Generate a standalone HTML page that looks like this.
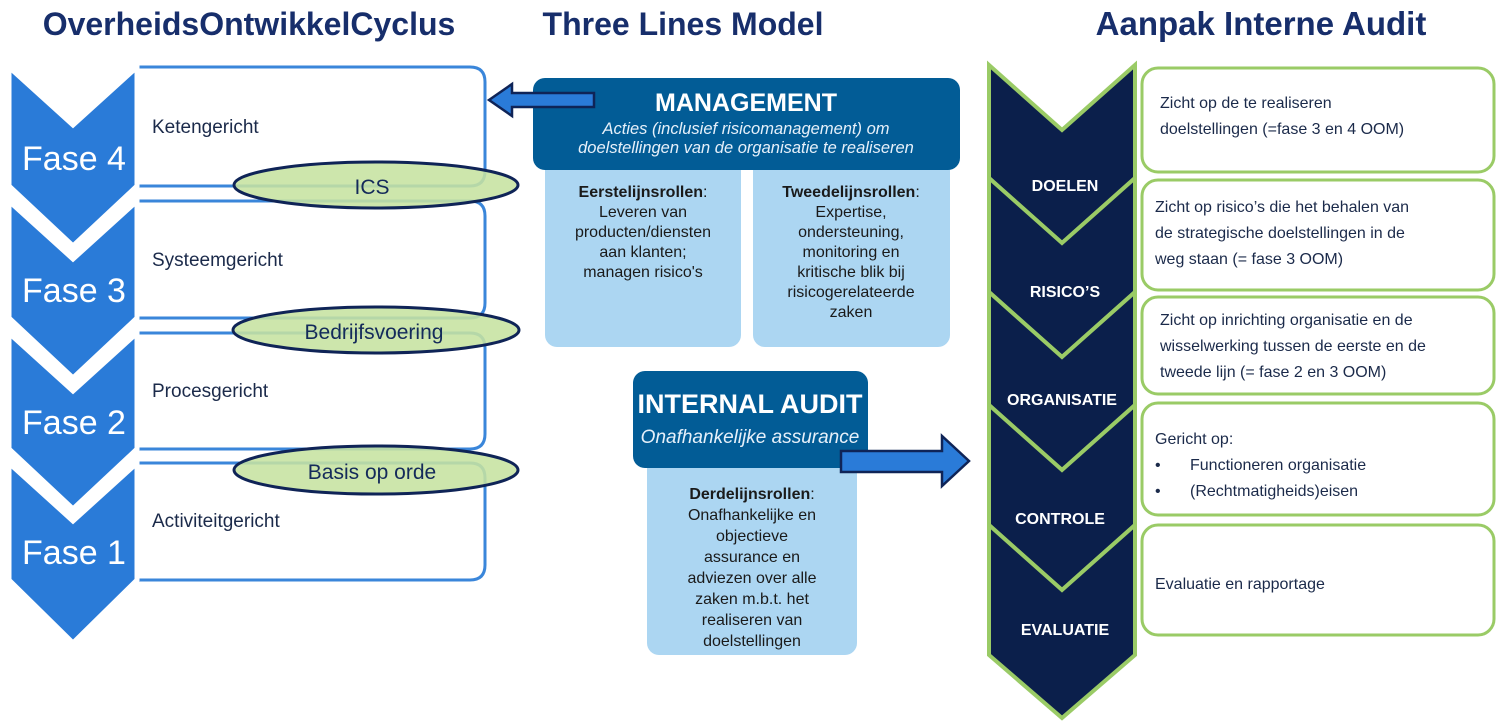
<!DOCTYPE html>
<html><head><meta charset="utf-8"><style>
body{margin:0;background:#fff;}
svg{display:block;font-family:"Liberation Sans",Arial,sans-serif;}
</style></head><body>
<svg width="1500" height="725" viewBox="0 0 1500 725" xmlns="http://www.w3.org/2000/svg">
<!-- Titles -->
<text x="249" y="35" font-size="32" font-weight="bold" fill="#172e6b" text-anchor="middle">OverheidsOntwikkelCyclus</text>
<text x="683" y="35" font-size="32" font-weight="bold" fill="#172e6b" text-anchor="middle">Three Lines Model</text>
<text x="1261" y="35" font-size="33" font-weight="bold" fill="#172e6b" text-anchor="middle">Aanpak Interne Audit</text>

<!-- Left boxes -->
<g fill="#fff" stroke="#3a86da" stroke-width="3">
<path d="M137 67 H470 Q485 67 485 82 V171 Q485 186 470 186 H137 Z"/>
<path d="M137 201 H470 Q485 201 485 216 V303 Q485 318 470 318 H137 Z"/>
<path d="M137 333 H470 Q485 333 485 348 V434 Q485 449 470 449 H137 Z"/>
<path d="M137 463 H470 Q485 463 485 478 V565 Q485 580 470 580 H137 Z"/>
</g>
<!-- Left chevrons -->
<g fill="#2a7bd8" stroke="#fff" stroke-width="5" stroke-linejoin="miter">
<polygon points="9,67 73,125 137,67 137,186 73,246 9,186"/>
<polygon points="9,201 73,259 137,201 137,318 73,378 9,318"/>
<polygon points="9,333 73,391 137,333 137,449 73,509 9,449"/>
<polygon points="9,463 73,521 137,463 137,580 73,643 9,580"/>
</g>
<g fill="#fff" font-size="34" text-anchor="middle">
<text x="74" y="170">Fase 4</text>
<text x="74" y="302">Fase 3</text>
<text x="74" y="434">Fase 2</text>
<text x="74" y="564">Fase 1</text>
</g>
<g fill="#1b2a4a" font-size="19">
<text x="152" y="133">Ketengericht</text>
<text x="152" y="266">Systeemgericht</text>
<text x="152" y="397">Procesgericht</text>
<text x="152" y="527">Activiteitgericht</text>
</g>
<!-- Ellipses -->
<g fill="#c6e3a0" fill-opacity="0.88" stroke="#0f2457" stroke-width="3">
<ellipse cx="376" cy="185" rx="142" ry="23"/>
<ellipse cx="376" cy="330" rx="143" ry="23"/>
<ellipse cx="376" cy="470" rx="142" ry="24"/>
</g>
<g fill="#142a5a" font-size="21" text-anchor="middle">
<text x="372" y="194">ICS</text>
<text x="374" y="339">Bedrijfsvoering</text>
<text x="372" y="479">Basis op orde</text>
</g>

<!-- Three lines model -->
<rect x="545" y="150" width="196" height="197" rx="12" fill="#acd6f2"/>
<rect x="753" y="150" width="197" height="197" rx="12" fill="#acd6f2"/>
<rect x="533" y="78" width="427" height="92" rx="12" fill="#025c96"/>
<text x="746" y="111" font-size="25" font-weight="bold" fill="#fff" text-anchor="middle">MANAGEMENT</text>
<text x="746" y="134" font-size="16.5" font-style="italic" fill="#e6f0fa" text-anchor="middle">Acties (inclusief risicomanagement) om</text>
<text x="746" y="153" font-size="16.5" font-style="italic" fill="#e6f0fa" text-anchor="middle">doelstellingen van de organisatie te realiseren</text>
<g font-size="16" fill="#1a1a1a" text-anchor="middle">
<text x="643" y="197"><tspan font-weight="bold">Eerstelijnsrollen</tspan>:</text>
<text x="643" y="217">Leveren van</text>
<text x="643" y="237">producten/diensten</text>
<text x="643" y="257">aan klanten;</text>
<text x="643" y="277">managen risico's</text>
<text x="851" y="197"><tspan font-weight="bold">Tweedelijnsrollen</tspan>:</text>
<text x="851" y="217">Expertise,</text>
<text x="851" y="237">ondersteuning,</text>
<text x="851" y="257">monitoring en</text>
<text x="851" y="277">kritische blik bij</text>
<text x="851" y="297">risicogerelateerde</text>
<text x="851" y="317">zaken</text>
</g>
<rect x="647" y="450" width="210" height="205" rx="12" fill="#acd6f2"/>
<rect x="633" y="371" width="235" height="97" rx="12" fill="#025c96"/>
<text x="750" y="413" font-size="27" font-weight="bold" fill="#fff" text-anchor="middle">INTERNAL AUDIT</text>
<text x="750" y="443" font-size="19" font-style="italic" fill="#e6f0fa" text-anchor="middle">Onafhankelijke assurance</text>
<g font-size="16" fill="#1a1a1a" text-anchor="middle">
<text x="752" y="499"><tspan font-weight="bold">Derdelijnsrollen</tspan>:</text>
<text x="752" y="520">Onafhankelijke en</text>
<text x="752" y="541">objectieve</text>
<text x="752" y="562">assurance en</text>
<text x="752" y="583">adviezen over alle</text>
<text x="752" y="604">zaken m.b.t. het</text>
<text x="752" y="625">realiseren van</text>
<text x="752" y="646">doelstellingen</text>
</g>
<!-- Arrows -->
<polygon points="489,100 512,84 512,93 594,93 594,107 512,107 512,116" fill="#2a7bd8" stroke="#0f2457" stroke-width="2.5"/>
<polygon points="841,451 942,451 942,436 969,461 942,486 942,472 841,472" fill="#2a7bd8" stroke="#0f2457" stroke-width="2.5"/>

<!-- Right boxes -->
<g fill="#fff" stroke="#9acb66" stroke-width="3">
<rect x="1142" y="68" width="352" height="104" rx="16"/>
<rect x="1142" y="180" width="352" height="110" rx="16"/>
<rect x="1142" y="297" width="352" height="97" rx="16"/>
<rect x="1142" y="403" width="352" height="112" rx="16"/>
<rect x="1142" y="525" width="352" height="110" rx="16"/>
</g>
<!-- Right chevrons -->
<g fill="#0b1f4b" stroke="#9acb66" stroke-width="4" stroke-linejoin="miter">
<polygon points="989,65 1062,130 1135,65 1135,178 1062,243 989,178"/>
<polygon points="989,178 1062,243 1135,178 1135,292 1062,357 989,292"/>
<polygon points="989,292 1062,357 1135,292 1135,405 1062,470 989,405"/>
<polygon points="989,405 1062,470 1135,405 1135,525 1062,590 989,525"/>
<polygon points="989,525 1062,590 1135,525 1135,655 1062,718 989,655"/>
</g>
<g fill="#fff" font-size="16" font-weight="bold" text-anchor="middle">
<text x="1065" y="191">DOELEN</text>
<text x="1065" y="297">RISICO’S</text>
<text x="1062" y="405">ORGANISATIE</text>
<text x="1060" y="524">CONTROLE</text>
<text x="1065" y="635">EVALUATIE</text>
</g>
<g fill="#1b2a4a" font-size="16">
<text x="1160" y="108">Zicht op de te realiseren</text>
<text x="1160" y="134">doelstellingen (=fase 3 en 4 OOM)</text>
<text x="1155" y="212">Zicht op risico’s die het behalen van</text>
<text x="1155" y="238">de strategische doelstellingen in de</text>
<text x="1155" y="264">weg staan (= fase 3 OOM)</text>
<text x="1160" y="325">Zicht op inrichting organisatie en de</text>
<text x="1160" y="351">wisselwerking tussen de eerste en de</text>
<text x="1160" y="377">tweede lijn (= fase 2 en 3 OOM)</text>
<text x="1155" y="444">Gericht op:</text>
<text x="1155" y="470">•</text><text x="1190" y="470">Functioneren organisatie</text>
<text x="1155" y="496">•</text><text x="1190" y="496">(Rechtmatigheids)eisen</text>
<text x="1155" y="589">Evaluatie en rapportage</text>
</g>
</svg>
</body></html>
